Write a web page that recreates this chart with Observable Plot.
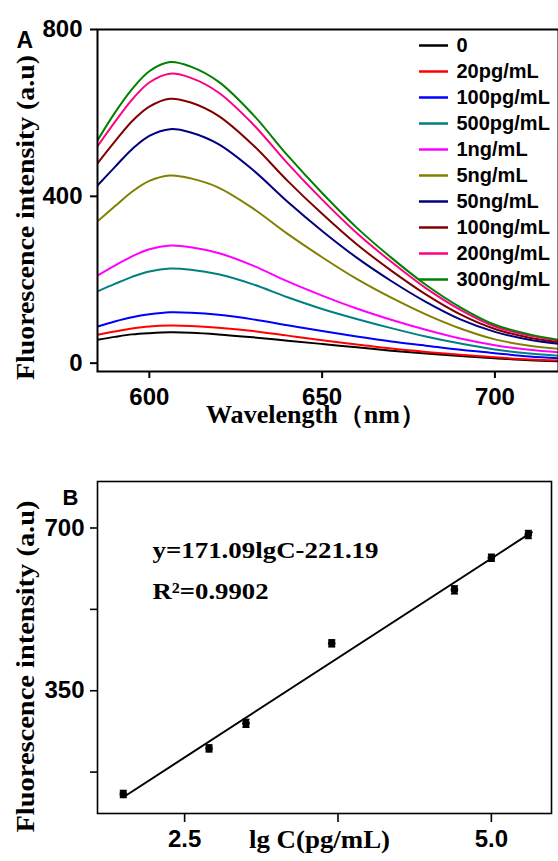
<!DOCTYPE html>
<html><head><meta charset="utf-8">
<script src="https://cdn.jsdelivr.net/npm/d3@7"></script>
<script src="https://cdn.jsdelivr.net/npm/@observablehq/plot@0.6"></script>
<style>
body{margin:0;background:#fff;}
#wrap{position:relative;width:558px;height:861px;overflow:hidden;background:#fff}
#wrap > *{position:absolute;}
</style></head><body><div id="wrap"></div>
<script>
// ---------- Panel A data ----------
const wavelengths = [585,590,595,600,606,612,620,630,640,650,660,670,680,690,700,710,720];
const seriesNames = ["0","20pg/mL","100pg/mL","500pg/mL","1ng/mL","5ng/mL","50ng/mL","100ng/mL","200ng/mL","300ng/mL"];
const seriesColors = ["#000000","#ff0000","#0000ff","#008080","#ff00ff","#808000","#000080","#800000","#ff0080","#008000"];
const s0    = [56,63,69,72,74,73,69,62,54,46,38,30,23,17,12,7,4];
const s20pg = [68,76,83,88,90,89,85,77,66,55,45,35,27,20,14,9,6];
const s100pg= [88,100,110,117,122,121,116,105,91,77,64,52,42,32,24,16,11];
const s500pg= [172,190,207,220,227,224,213,189,158,130,106,84,64,47,33,23,17];
const s1ng  = [210,234,256,273,282,278,264,234,196,162,131,104,80,59,43,32,25];
const s5ng  = [340,376,411,437,450,443,421,371,310,254,202,157,117,83,57,42,33];
const s50ng = [426,470,513,545,561,553,525,463,387,317,253,197,147,105,75,56,45];
const s100ng= [479,531,580,615,634,625,593,523,437,358,285,222,165,117,82,61,49];
const s200ng= [520,578,632,673,694,684,649,573,479,392,312,243,180,128,88,66,52];
const s300ng= [534,600,657,700,722,711,675,596,498,408,325,253,188,134,92,69,54];
const seriesValues = [s0,s20pg,s100pg,s500pg,s1ng,s5ng,s50ng,s100ng,s200ng,s300ng];
const xTicksA = [600,650,700];
const yTicksA = [0,400,800];

// ---------- Panel B data ----------
const lgC = [2.0,2.699,3.0,3.699,4.699,5.0,5.301];
const intensity = [128,226,280,452,567,636,686];
const errs = [7,7,8,7,8,7,8];
const fitX = [2.0,5.33];
const fitY = [121,691];
const xTicksB = [2.5,5.0];
const xMinorB = [3.75];
const yTicksB = [350,700];
const yMinorB = [175,525];

const SANS = "'Liberation Sans', Arial, sans-serif";
const SERIF = "'Liberation Serif', 'Times New Roman', serif";

const specRows = [];
seriesValues.forEach((vals,i)=>vals.forEach((v,j)=>specRows.push({series:seriesNames[i], w:wavelengths[j], v})));

const plotA = Plot.plot({
  width:558, height:440, marginTop:29, marginLeft:97, marginRight:0, marginBottom:69,
  x:{domain:[585,718.4]}, y:{domain:[-20,800]},
  color:{domain:seriesNames, range:seriesColors},
  style:{fontFamily:SANS, fontWeight:"bold", fontSize:"24px", background:"transparent", overflow:"visible", color:"black"},
  marks:[
    Plot.line(specRows,{x:"w",y:"v",z:"series",stroke:"series",strokeWidth:2,curve:"catmull-rom",clip:true}),
    Plot.frame({stroke:"black",strokeWidth:2}),
    Plot.axisY({ticks:yTicksA, tickSize:7, tickPadding:8, label:null, strokeWidth:2}),
    Plot.axisX({ticks:xTicksA, tickSize:7, tickPadding:9, label:null, strokeWidth:2, tickFormat:d=>String(d)}),
    Plot.text(["A"],{frameAnchor:"top-left", dx:-81, dy:2, textAnchor:"start", fontSize:23, fontWeight:"bold", fontFamily:SANS}),
    Plot.text(["Fluorescence intensity (a.u)"],{frameAnchor:"left", rotate:-90, dx:-72, dy:17, fontSize:25, fontWeight:"bold", fontFamily:SERIF}),
    Plot.text(["Wavelength（nm）"],{frameAnchor:"bottom", dx:-12, dy:51, fontSize:25, fontWeight:"bold", fontFamily:SERIF})
  ]
});
plotA.style.left="0px"; plotA.style.top="0px";

const capSymbol = {draw(ctx,size){const r=Math.sqrt(size/Math.PI); ctx.moveTo(-r,0); ctx.lineTo(r,0);}};
const pts = lgC.map((x,i)=>({x, y:intensity[i], e:errs[i]}));
const fit = fitX.map((x,i)=>({x, y:fitY[i]}));

const plotB = Plot.plot({
  width:558, height:421, marginTop:41, marginLeft:97, marginRight:7, marginBottom:48,
  x:{domain:[1.79,5.49]}, y:{domain:[86,800]},
  style:{fontFamily:SANS, fontWeight:"bold", fontSize:"24px", background:"transparent", overflow:"visible", color:"black"},
  marks:[
    Plot.line(fit,{x:"x",y:"y",stroke:"black",strokeWidth:2}),
    Plot.ruleX(pts,{x:"x",y1:d=>d.y-d.e,y2:d=>d.y+d.e,stroke:"black",strokeWidth:1.5}),
    Plot.dot(pts,{x:"x",y:d=>d.y-d.e,symbol:capSymbol,r:3.5,stroke:"black",strokeWidth:2}),
    Plot.dot(pts,{x:"x",y:d=>d.y+d.e,symbol:capSymbol,r:3.5,stroke:"black",strokeWidth:2}),
    Plot.dot(pts,{x:"x",y:"y",r:3.8,fill:"black",stroke:"none"}),
    Plot.frame({stroke:"black",strokeWidth:1.6}),
    Plot.axisY({ticks:yTicksB, tickSize:7, tickPadding:6, label:null, strokeWidth:1.6}),
    Plot.axisY({ticks:yMinorB, tickSize:7, tickFormat:()=>"", label:null, strokeWidth:1.6}),
    Plot.axisX({ticks:xTicksB, tickSize:9, tickPadding:7, label:null, strokeWidth:1.6, tickFormat:d3.format(".1f")}),
    Plot.axisX({ticks:xMinorB, tickSize:9, tickFormat:()=>"", label:null, strokeWidth:1.6}),
    Plot.text(["B"],{frameAnchor:"top-left", dx:-35, dy:8, textAnchor:"start", fontSize:22, fontWeight:"bold", fontFamily:SANS}),
    Plot.text(["y=171.09lgC-221.19"],{frameAnchor:"top-left", dx:55, dy:60, textAnchor:"start", fontSize:23, fontWeight:"bold", fontFamily:SERIF}),
    Plot.text(["R²=0.9902"],{frameAnchor:"top-left", dx:55, dy:101, textAnchor:"start", fontSize:23, fontWeight:"bold", fontFamily:SERIF}),
    Plot.text(["Fluorescence intensity (a.u)"],{frameAnchor:"left", rotate:-90, dx:-72, dy:19, fontSize:25, fontWeight:"bold", fontFamily:SERIF}),
    Plot.text(["lg C(pg/mL)"],{frameAnchor:"bottom", dx:-5, dy:34, fontSize:25, fontWeight:"bold", fontFamily:SERIF})
  ]
});
plotB.style.left="0px"; plotB.style.top="440px";

const legend = Plot.plot({
  width:158, height:300, marginTop:43, marginBottom:20, marginLeft:19, marginRight:110,
  x:{domain:[0,1], axis:null}, y:{type:"point", domain:seriesNames, padding:0, axis:null},
  color:{domain:seriesNames, range:seriesColors},
  style:{background:"transparent", overflow:"visible"},
  marks:[
    Plot.ruleY(seriesNames,{y:d=>d, x1:0, x2:1, stroke:d=>d, strokeWidth:2.5}),
    Plot.text(seriesNames,{y:d=>d, x:1, text:d=>d, textAnchor:"start", dx:8, fill:"black", fontSize:20, fontWeight:"bold", fontFamily:SANS})
  ]
});
legend.style.left="400px"; legend.style.top="0px";

const wrap = document.getElementById("wrap");
wrap.appendChild(plotA); wrap.appendChild(plotB); wrap.appendChild(legend);

// stretch titles to the reference's lengths, centred on their anchor point
function fitText(svg, txt, len, anchor){
  d3.select(svg).selectAll("text").filter(function(){return this.textContent===txt;})
    .each(function(){
      const x0 = +(this.getAttribute("x") || 0);
      const start = anchor === "start" ? x0 : x0 - len/2;
      d3.select(this).attr("text-anchor","start").attr("x", start)
        .attr("textLength", len).attr("lengthAdjust","spacingAndGlyphs");
    });
}
fitText(plotA, "Fluorescence intensity (a.u)", 325);
fitText(plotA, "Wavelength（nm）", 220);
fitText(plotB, "Fluorescence intensity (a.u)", 332);
fitText(plotB, "lg C(pg/mL)", 141);
fitText(plotB, "y=171.09lgC-221.19", 226, "start");
fitText(plotB, "R²=0.9902", 116, "start");
</script></body></html>
